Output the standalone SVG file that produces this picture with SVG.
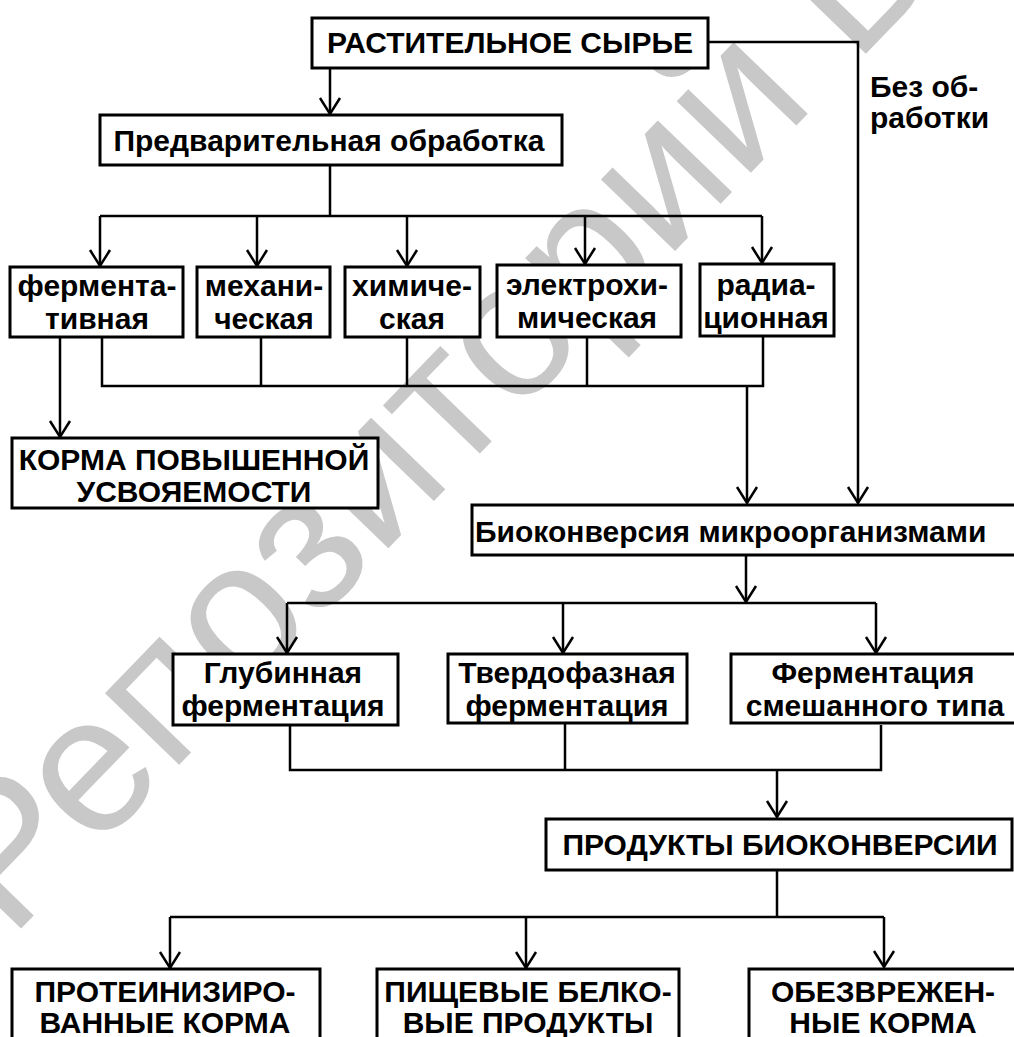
<svg xmlns="http://www.w3.org/2000/svg" width="1014" height="1037" viewBox="0 0 1014 1037">
  <style>
    .box { fill: #fff; stroke: #000; stroke-width: 3; }
    .t { font-family: "Liberation Sans", Arial, Helvetica, sans-serif; font-weight: bold; font-size: 30px; fill: #000; text-anchor: middle; }
    .ts { text-anchor: start; }
    .wire { fill: none; stroke: #000; stroke-width: 2.5; }
    .wm { font-family: "Liberation Sans", Arial, sans-serif; font-size: 195px; fill: #c8c8c8; }
  </style>
  <defs>
    <marker id="arr" viewBox="-20 -12 24 24" markerUnits="userSpaceOnUse" markerWidth="24" markerHeight="24" refX="0" refY="0" orient="auto">
      <path d="M-16,-10 L0,0 L-16,10" fill="none" stroke="#000" stroke-width="2.5"/>
    </marker>
  </defs>
  <rect width="1014" height="1037" fill="#fff"/>

  <!-- background watermark -->
  <g id="watermark">
    <text class="wm" transform="translate(10,940) rotate(-46)" x="0" y="0">Репозиторий БГ</text>
  </g>

  <!-- connectors -->
  <g id="connectors">
    <path class="wire" d="M330,68 V114" marker-end="url(#arr)"/>
    <path class="wire" d="M708,42 H858 V503" marker-end="url(#arr)"/>
    <path class="wire" d="M330,165 V216 M100,216 H762"/>
    <path class="wire" d="M100,216 V266" marker-end="url(#arr)"/>
    <path class="wire" d="M257,216 V266" marker-end="url(#arr)"/>
    <path class="wire" d="M407,216 V266" marker-end="url(#arr)"/>
    <path class="wire" d="M585,216 V264" marker-end="url(#arr)"/>
    <path class="wire" d="M762,216 V263" marker-end="url(#arr)"/>
    <path class="wire" d="M102,337 V386 H763 V336 M261,337 V386 M407,337 V386 M587,337 V386"/>
    <path class="wire" d="M747,386 V503" marker-end="url(#arr)"/>
    <path class="wire" d="M60,337 V437" marker-end="url(#arr)"/>
    <path class="wire" d="M746,555 V602" marker-end="url(#arr)"/>
    <path class="wire" d="M287,603 H876"/>
    <path class="wire" d="M287,603 V653" marker-end="url(#arr)"/>
    <path class="wire" d="M563,603 V653" marker-end="url(#arr)"/>
    <path class="wire" d="M876,603 V653" marker-end="url(#arr)"/>
    <path class="wire" d="M290,725 V770 H881 V725 M565,723 V770"/>
    <path class="wire" d="M777,770 V817" marker-end="url(#arr)"/>
    <path class="wire" d="M777,870 V917 M170,917 H884"/>
    <path class="wire" d="M170,917 V968" marker-end="url(#arr)"/>
    <path class="wire" d="M526,917 V968" marker-end="url(#arr)"/>
    <path class="wire" d="M884,917 V967" marker-end="url(#arr)"/>
  </g>

  <!-- nodes -->
  <g id="raw">
    <rect class="box" x="312" y="18" width="396" height="50"/>
    <text class="t" x="510" y="53">РАСТИТЕЛЬНОЕ СЫРЬЕ</text>
  </g>
  <g id="no-treatment">
    <text class="t ts" x="870" y="97">Без об-</text>
    <text class="t ts" x="870" y="128">работки</text>
  </g>
  <g id="pretreatment">
    <rect class="box" x="100" y="115" width="462" height="50"/>
    <text class="t" x="329" y="151">Предварительная обработка</text>
  </g>
  <g id="enzymatic">
    <rect class="box" x="10" y="267" width="173" height="70"/>
    <text class="t" x="97" y="296">фермента-</text>
    <text class="t" x="97" y="329">тивная</text>
  </g>
  <g id="mechanical">
    <rect class="box" x="197" y="267" width="133" height="70"/>
    <text class="t" x="264" y="296">механи-</text>
    <text class="t" x="264" y="329">ческая</text>
  </g>
  <g id="chemical">
    <rect class="box" x="345" y="267" width="135" height="70"/>
    <text class="t" x="412" y="296">химиче-</text>
    <text class="t" x="412" y="329">ская</text>
  </g>
  <g id="electrochemical">
    <rect class="box" x="497" y="265" width="184" height="72"/>
    <text class="t" x="587" y="295">электрохи-</text>
    <text class="t" x="587" y="328">мическая</text>
  </g>
  <g id="radiation">
    <rect class="box" x="700" y="264" width="134" height="72"/>
    <text class="t" x="766" y="295">радиа-</text>
    <text class="t" x="766" y="328">ционная</text>
  </g>
  <g id="digestible-feed">
    <rect class="box" x="12" y="438" width="366" height="70"/>
    <text class="t" x="194" y="470">КОРМА ПОВЫШЕННОЙ</text>
    <text class="t" x="194" y="502">УСВОЯЕМОСТИ</text>
  </g>
  <g id="bioconversion">
    <rect class="box" x="472" y="505" width="545" height="50"/>
    <text class="t ts" x="475" y="542">Биоконверсия микроорганизмами</text>
  </g>
  <g id="submerged">
    <rect class="box" x="173" y="654" width="225" height="71"/>
    <text class="t" x="283" y="683">Глубинная</text>
    <text class="t" x="283" y="716">ферментация</text>
  </g>
  <g id="solid-state">
    <rect class="box" x="448" y="654" width="239" height="69"/>
    <text class="t" x="567" y="683">Твердофазная</text>
    <text class="t" x="567" y="716">ферментация</text>
  </g>
  <g id="mixed">
    <rect class="box" x="731" y="654" width="286" height="69"/>
    <text class="t" x="873" y="683">Ферментация</text>
    <text class="t" x="875" y="716">смешанного типа</text>
  </g>
  <g id="products">
    <rect class="box" x="546" y="819" width="466" height="51"/>
    <text class="t" x="780" y="855">ПРОДУКТЫ БИОКОНВЕРСИИ</text>
  </g>
  <g id="protein-feed">
    <rect class="box" x="12" y="969" width="308" height="80"/>
    <text class="t" x="165" y="1002">ПРОТЕИНИЗИРО-</text>
    <text class="t" x="165" y="1033">ВАННЫЕ КОРМА</text>
  </g>
  <g id="food-protein">
    <rect class="box" x="377" y="969" width="302" height="80"/>
    <text class="t" x="528" y="1002">ПИЩЕВЫЕ БЕЛКО-</text>
    <text class="t" x="528" y="1033">ВЫЕ ПРОДУКТЫ</text>
  </g>
  <g id="detoxified-feed">
    <rect class="box" x="749" y="969" width="280" height="80"/>
    <text class="t" x="883" y="1002">ОБЕЗВРЕЖЕН-</text>
    <text class="t" x="883" y="1033">НЫЕ КОРМА</text>
  </g>
</svg>
